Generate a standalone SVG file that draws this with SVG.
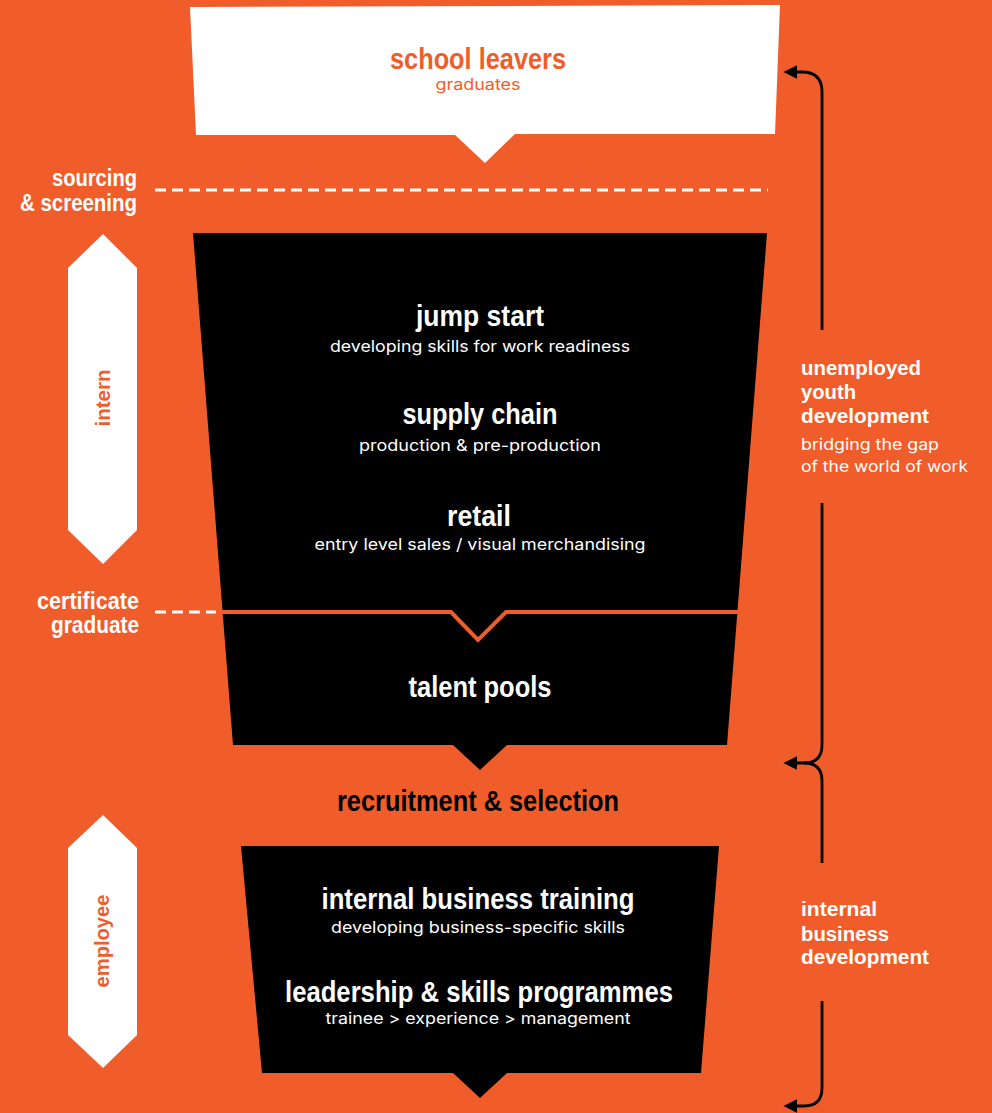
<svg xmlns="http://www.w3.org/2000/svg" width="992" height="1113" viewBox="0 0 992 1113">
<defs>
<style>
.t{font-family:"Liberation Sans",Arial,sans-serif;font-weight:bold;}
.s{font-family:Inter,"DejaVu Sans",sans-serif;font-weight:normal;}
.w{fill:#fff}
.k{fill:#000}
.o{fill:#F15D2A}
.dash{stroke:#fff;stroke-width:3;stroke-dasharray:11 6;fill:none}
.br{stroke:#000;stroke-width:2.8;fill:none}
</style>
<marker id="ah" viewBox="0 0 10 10" refX="1" refY="5" markerWidth="5" markerHeight="5" orient="auto" markerUnits="strokeWidth">
<path d="M10,0 L0,5 L10,10 Z" fill="#000" transform="rotate(180 5 5)"/>
</marker>
</defs>
<rect x="0" y="0" width="992" height="1113" fill="#F15D2A"/>

<g id="school-leavers">
<polygon class="w" points="190,7 780,5 775,134 515,134 485,163 455,135 196,135"/>
<text class="t o" x="478" y="69" font-size="29" text-anchor="middle" textLength="176" lengthAdjust="spacingAndGlyphs">school leavers</text>
<text class="s o" x="478" y="90" font-size="16" text-anchor="middle" textLength="85" lengthAdjust="spacingAndGlyphs">graduates</text>
</g>

<g id="sourcing-label">
<text class="t w" x="137" y="186" font-size="23" text-anchor="end" textLength="85" lengthAdjust="spacingAndGlyphs">sourcing</text>
<text class="t w" x="137" y="211" font-size="23" text-anchor="end" textLength="117" lengthAdjust="spacingAndGlyphs">&amp; screening</text>
</g>

<g id="intern">
<polygon class="w" points="103,234 137,268 137,530 103,564 68,530 68,268"/>
<text class="t o" transform="translate(110,398) rotate(-90)" font-size="20" text-anchor="middle" textLength="57" lengthAdjust="spacingAndGlyphs">intern</text>
</g>

<g id="intern-programmes">
<polygon class="k" points="193,233 767,233 727,745 507,745 480,770 453,745 233,745"/>
<text class="t w" x="480" y="326" font-size="29" text-anchor="middle" textLength="128" lengthAdjust="spacingAndGlyphs">jump start</text>
<text class="s w" x="480" y="352" font-size="16" text-anchor="middle" textLength="300" lengthAdjust="spacingAndGlyphs">developing skills for work readiness</text>
<text class="t w" x="480" y="424" font-size="29" text-anchor="middle" textLength="155" lengthAdjust="spacingAndGlyphs">supply chain</text>
<text class="s w" x="480" y="451" font-size="16" text-anchor="middle" textLength="242" lengthAdjust="spacingAndGlyphs">production &amp; pre-production</text>
<text class="t w" x="479" y="526" font-size="29" text-anchor="middle" textLength="64" lengthAdjust="spacingAndGlyphs">retail</text>
<text class="s w" x="480" y="550" font-size="16" text-anchor="middle" textLength="331" lengthAdjust="spacingAndGlyphs">entry level sales / visual merchandising</text>
<polyline points="220,612 451,612 478,640 506,612 742,612" fill="none" stroke="#F15D2A" stroke-width="4"/>
<text class="t w" x="480" y="697" font-size="29" text-anchor="middle" textLength="143" lengthAdjust="spacingAndGlyphs">talent pools</text>
</g>

<g id="certificate-label">
<text class="t w" x="139" y="609" font-size="23" text-anchor="end" textLength="102" lengthAdjust="spacingAndGlyphs">certificate</text>
<text class="t w" x="139" y="633" font-size="23" text-anchor="end" textLength="88" lengthAdjust="spacingAndGlyphs">graduate</text>
</g>

<g id="recruitment">
<text class="t k" x="478" y="811" font-size="29" text-anchor="middle" textLength="282" lengthAdjust="spacingAndGlyphs">recruitment &amp; selection</text>
</g>

<g id="employee">
<polygon class="w" points="103,815 137,848 137,1035 103,1068 68,1035 68,848"/>
<text class="t o" transform="translate(109,941) rotate(-90)" font-size="20" text-anchor="middle" textLength="93" lengthAdjust="spacingAndGlyphs">employee</text>
</g>

<g id="employee-programmes">
<polygon class="k" points="241,846 719,846 701,1073 507,1073 480,1098 453,1073 262,1073"/>
<text class="t w" x="478" y="909" font-size="29" text-anchor="middle" textLength="313" lengthAdjust="spacingAndGlyphs">internal business training</text>
<text class="s w" x="478" y="933" font-size="16" text-anchor="middle" textLength="294" lengthAdjust="spacingAndGlyphs">developing business-specific skills</text>
<text class="t w" x="479" y="1002" font-size="29" text-anchor="middle" textLength="388" lengthAdjust="spacingAndGlyphs">leadership &amp; skills programmes</text>
<text class="s w" x="478" y="1024" font-size="16" text-anchor="middle" textLength="305" lengthAdjust="spacingAndGlyphs">trainee &gt; experience &gt; management</text>
</g>

<g id="unemployed-youth-label">
<text class="t w" x="801" y="375" font-size="20" textLength="120" lengthAdjust="spacingAndGlyphs">unemployed</text>
<text class="t w" x="801" y="399" font-size="20" textLength="55" lengthAdjust="spacingAndGlyphs">youth</text>
<text class="t w" x="801" y="423" font-size="20" textLength="128" lengthAdjust="spacingAndGlyphs">development</text>
<text class="s w" x="801" y="450" font-size="16" textLength="138" lengthAdjust="spacingAndGlyphs">bridging the gap</text>
<text class="s w" x="801" y="472" font-size="16" textLength="167" lengthAdjust="spacingAndGlyphs">of the world of work</text>
</g>

<g id="internal-business-label">
<text class="t w" x="801" y="916" font-size="20" textLength="76" lengthAdjust="spacingAndGlyphs">internal</text>
<text class="t w" x="801" y="941" font-size="20" textLength="88" lengthAdjust="spacingAndGlyphs">business</text>
<text class="t w" x="801" y="964" font-size="20" textLength="128" lengthAdjust="spacingAndGlyphs">development</text>
</g>

<g id="connectors">
<line class="dash" x1="155" y1="190" x2="768" y2="190"/>
<line class="dash" x1="155" y1="612" x2="216" y2="612" stroke-dasharray="10 7"/>
<path class="br" d="M822,330 V92 Q822,72 802,72 H796" marker-end="url(#ah)"/>
<path class="br" d="M822,503 V745 Q822,763 804,763 H796" marker-end="url(#ah)"/>
<path class="br" d="M822,863 V781 Q822,763 804,763"/>
<path class="br" d="M822,1001 V1088 Q822,1106 804,1106 H796" marker-end="url(#ah)"/>
</g>
</svg>
